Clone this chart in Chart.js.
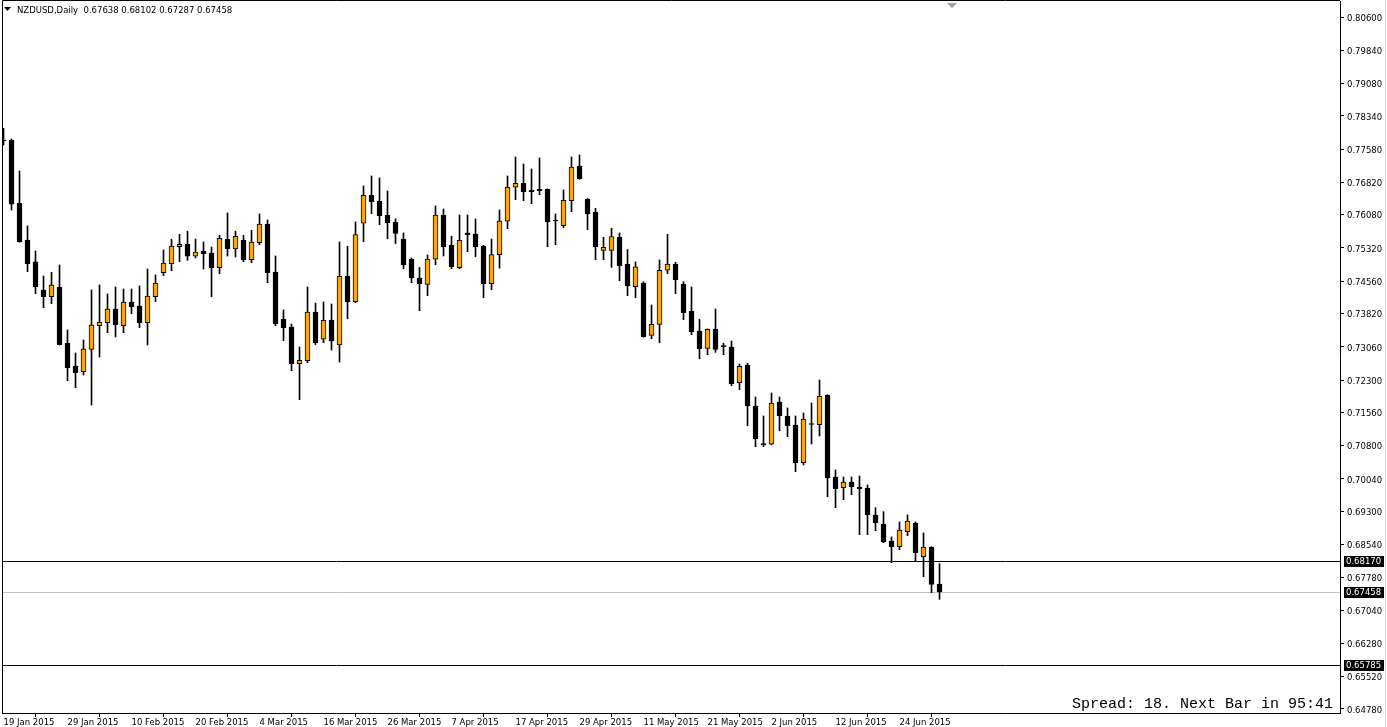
<!DOCTYPE html>
<html>
<head>
    <title>NZDUSD, Daily</title>
    <script src="https://cdn.jsdelivr.net/npm/chart.js"></script>
    <style>
        html, body {
            margin: 0;
            padding: 0;
            background: #fff;
        }
        #chart-container {
            position: relative;
            width: 1387px;
            height: 727px;
        }
    </style>
</head>
<body>
    <div id="chart-container">
        <canvas id="myChart"></canvas>
    </div>

    <script>
        // Datos del gráfico (barras diarias NZDUSD, 19 Jan 2015 - 1 Jul 2015)
        const symbol = 'NZDUSD';
        const period = 'Daily';

        const open = [
            0.77788, 0.77788, 0.76342, 0.75502, 0.75000, 0.74359, 0.74207, 0.74428, 0.73147, 0.72621,
            0.72491, 0.73003, 0.73542, 0.73611, 0.73924, 0.73542, 0.74084, 0.73993, 0.73611, 0.74207,
            0.74755, 0.74961, 0.75349, 0.75402, 0.75135, 0.75251, 0.75205, 0.74869, 0.75519, 0.75297,
            0.75497, 0.75051, 0.75440, 0.75868, 0.74771, 0.73696, 0.73512, 0.72674, 0.72742, 0.73856,
            0.73232, 0.73673, 0.73101, 0.74679, 0.74091, 0.75885, 0.76524, 0.76387, 0.76074, 0.75914,
            0.75525, 0.75061, 0.74633, 0.74489, 0.75061, 0.76074, 0.75379, 0.74869, 0.75663, 0.75640,
            0.75365, 0.74503, 0.75167, 0.75930, 0.76707, 0.76798, 0.76638, 0.76661, 0.76661, 0.75937,
            0.75829, 0.76401, 0.77194, 0.76439, 0.76143, 0.75261, 0.75261, 0.75565, 0.74953, 0.74434,
            0.74519, 0.73322, 0.73574, 0.74810, 0.74953, 0.74496, 0.73879, 0.73422, 0.73026, 0.73468,
            0.73063, 0.73055, 0.72240, 0.72644, 0.71707, 0.70823, 0.70832, 0.71798, 0.71479, 0.71273,
            0.70411, 0.71307, 0.71280, 0.71959, 0.70084, 0.69839, 0.69970, 0.69855, 0.69832, 0.69215,
            0.69009, 0.68621, 0.68491, 0.68834, 0.69032, 0.68262, 0.68484, 0.67638
        ];
        const high = [
            0.78056, 0.77811, 0.77080, 0.75823, 0.75251, 0.74679, 0.74764, 0.74931, 0.73444, 0.72918,
            0.73215, 0.74359, 0.74474, 0.74268, 0.74428, 0.74382, 0.74382, 0.74451, 0.74839, 0.74702,
            0.75274, 0.75518, 0.75633, 0.75702, 0.75525, 0.75456, 0.75342, 0.75611, 0.76120, 0.75702,
            0.75611, 0.75725, 0.76097, 0.75960, 0.75137, 0.73901, 0.73581, 0.73055, 0.74428, 0.74061,
            0.74084, 0.74039, 0.75456, 0.75357, 0.75914, 0.76737, 0.76966, 0.76920, 0.76623, 0.75983,
            0.75663, 0.75091, 0.74875, 0.75160, 0.76280, 0.76211, 0.75588, 0.76074, 0.76074, 0.75983,
            0.75380, 0.75525, 0.76189, 0.76966, 0.77400, 0.77240, 0.77126, 0.77377, 0.76670, 0.76097,
            0.76645, 0.77400, 0.77445, 0.76450, 0.76227, 0.75565, 0.75771, 0.75663, 0.75285, 0.75000,
            0.74549, 0.74016, 0.75045, 0.75633, 0.74993, 0.74549, 0.74428, 0.73689, 0.73470, 0.73924,
            0.73141, 0.73192, 0.72667, 0.72683, 0.71913, 0.71479, 0.72004, 0.71913, 0.71662, 0.71479,
            0.71547, 0.71776, 0.72302, 0.71965, 0.70244, 0.70084, 0.70084, 0.70107, 0.69901, 0.69382,
            0.69291, 0.68713, 0.69055, 0.69215, 0.69055, 0.68804, 0.68490, 0.68102
        ];
        const low = [
            0.77674, 0.76188, 0.75450, 0.74778, 0.74275, 0.73954, 0.74045, 0.73100, 0.72285, 0.72125,
            0.72415, 0.71730, 0.72827, 0.73383, 0.73284, 0.73383, 0.73817, 0.73497, 0.73101, 0.74091,
            0.74686, 0.74801, 0.75006, 0.75037, 0.75090, 0.74839, 0.74207, 0.74732, 0.75135, 0.75113,
            0.75006, 0.74983, 0.75394, 0.74526, 0.73542, 0.73199, 0.72514, 0.71851, 0.72697, 0.73108,
            0.73153, 0.72986, 0.72713, 0.73702, 0.74068, 0.75464, 0.76103, 0.75852, 0.75531, 0.75421,
            0.74846, 0.74526, 0.73886, 0.74229, 0.74938, 0.75135, 0.74846, 0.74846, 0.75235, 0.75120,
            0.74183, 0.74366, 0.74857, 0.75761, 0.76424, 0.76401, 0.76333, 0.76538, 0.75349, 0.75394,
            0.75783, 0.76149, 0.76890, 0.75738, 0.75051, 0.75051, 0.74878, 0.74572, 0.74229, 0.74183,
            0.73280, 0.73244, 0.73153, 0.74732, 0.74275, 0.73680, 0.73337, 0.72788, 0.72880, 0.72934,
            0.72880, 0.72171, 0.72080, 0.71257, 0.70777, 0.70777, 0.70820, 0.71142, 0.71006, 0.70205,
            0.70358, 0.70839, 0.71021, 0.69634, 0.69382, 0.69565, 0.69679, 0.68766, 0.68766, 0.68857,
            0.68581, 0.68125, 0.68422, 0.68742, 0.68148, 0.67805, 0.67440, 0.67287
        ];
        const close = [
            0.77765, 0.76319, 0.75464, 0.74961, 0.74435, 0.74207, 0.74474, 0.73108, 0.72582, 0.72468,
            0.73010, 0.73558, 0.73627, 0.73924, 0.73565, 0.74084, 0.73977, 0.73611, 0.74222, 0.74519,
            0.74977, 0.75365, 0.75402, 0.75135, 0.75228, 0.75189, 0.74869, 0.75542, 0.75297, 0.75588,
            0.75051, 0.75456, 0.75868, 0.74755, 0.73588, 0.73497, 0.72674, 0.72751, 0.73856, 0.73153,
            0.73666, 0.73192, 0.74679, 0.74091, 0.75627, 0.76524, 0.76378, 0.76058, 0.75897, 0.75650,
            0.74938, 0.74640, 0.74503, 0.75068, 0.76074, 0.75349, 0.74892, 0.75497, 0.75624, 0.75349,
            0.74503, 0.75167, 0.75937, 0.76707, 0.76798, 0.76606, 0.76606, 0.76629, 0.75921, 0.75937,
            0.76410, 0.77171, 0.76904, 0.76103, 0.75349, 0.75337, 0.75581, 0.74915, 0.74457, 0.74886,
            0.73291, 0.73574, 0.74810, 0.74953, 0.74595, 0.73840, 0.73406, 0.73017, 0.73461, 0.73003,
            0.73063, 0.72217, 0.72615, 0.71714, 0.70960, 0.70823, 0.71776, 0.71485, 0.71257, 0.70411,
            0.71410, 0.71284, 0.71936, 0.70068, 0.69817, 0.69970, 0.69862, 0.69817, 0.69222, 0.69040,
            0.68604, 0.68491, 0.68872, 0.69078, 0.68354, 0.68484, 0.67630, 0.67458
        ];

        // Etiquetas de fecha: una cada 8 barras
        const dateLabels = [
            '19 Jan 2015', '29 Jan 2015', '10 Feb 2015', '20 Feb 2015', '4 Mar 2015',
            '16 Mar 2015', '26 Mar 2015', '7 Apr 2015', '17 Apr 2015', '29 Apr 2015',
            '11 May 2015', '21 May 2015', '2 Jun 2015', '12 Jun 2015', '24 Jun 2015'
        ];
        const labelStep = 8;

        const priceTicks = [
            0.80600, 0.79840, 0.79080, 0.78340, 0.77580, 0.76820, 0.76080, 0.75320, 0.74560, 0.73820,
            0.73060, 0.72300, 0.71560, 0.70800, 0.70040, 0.69300, 0.68540, 0.67780, 0.67040, 0.66280,
            0.65520, 0.64780
        ];

        // Líneas horizontales del usuario
        const hLines = [0.68170, 0.65785];
        const spreadText = 'Spread: 18. Next Bar in 95:41';

        const axisFont = { family: 'DejaVu Sans', size: 8.5 };

        // Construir datos de velas
        const wicks = high.map((h, i) => ({ x: i, y: [low[i], h] }));
        const bodies = open.map((o, i) => ({ x: i, y: [Math.min(o, close[i]), Math.max(o, close[i])] }));
        const bodyColors = open.map((o, i) => close[i] > o ? '#FFA500' : '#000000');

        // Quitar el margen extra que Chart.js reserva para las etiquetas
        function noPadding(s) {
            s.paddingTop = 0;
            s.paddingBottom = 0;
            s.paddingLeft = 0;
            s.paddingRight = 0;
        }

        // Dibujo extra estilo MetaTrader
        const mt4Look = {
            id: 'mt4Look',
            beforeDraw(chart) {
                const ctx = chart.ctx;
                ctx.save();
                ctx.fillStyle = '#fff';
                ctx.fillRect(0, 0, chart.width, chart.height);
                ctx.restore();
            },
            beforeDatasetsDraw(chart) {
                const { ctx, chartArea: a, scales: { y } } = chart;
                ctx.save();
                ctx.lineWidth = 1;
                const bidY = Math.round(y.getPixelForValue(close[close.length - 1])) + 0.5;
                ctx.strokeStyle = '#C0C0C0';
                ctx.beginPath();
                ctx.moveTo(a.left, bidY);
                ctx.lineTo(a.right, bidY);
                ctx.stroke();
                ctx.strokeStyle = '#000';
                hLines.forEach(v => {
                    const py = Math.round(y.getPixelForValue(v)) + 0.5;
                    ctx.beginPath();
                    ctx.moveTo(a.left, py);
                    ctx.lineTo(a.right, py);
                    ctx.stroke();
                });
                ctx.restore();
            },
            afterDraw(chart) {
                const { ctx, chartArea: a, scales: { y } } = chart;
                ctx.save();

                // marco
                ctx.strokeStyle = '#000';
                ctx.lineWidth = 1;
                ctx.beginPath();
                ctx.moveTo(a.left + 0.5, a.bottom);
                ctx.lineTo(a.left + 0.5, 0.5);
                ctx.lineTo(a.right, 0.5);
                ctx.stroke();

                // borde derecho de la ventana
                ctx.strokeStyle = '#D0D0D0';
                ctx.beginPath();
                ctx.moveTo(1385.5, 0);
                ctx.lineTo(1385.5, chart.height);
                ctx.stroke();

                // etiquetas de precio resaltadas
                ctx.font = '8.5px "DejaVu Sans"';
                ctx.textBaseline = 'middle';
                ctx.textAlign = 'left';
                [hLines[0], close[close.length - 1], hLines[1]].forEach(v => {
                    const py = Math.round(y.getPixelForValue(v));
                    ctx.fillStyle = '#000';
                    ctx.fillRect(a.right + 4, py - 5, 40, 11);
                    ctx.fillStyle = '#fff';
                    ctx.fillText(v.toFixed(5), a.right + 6, py + 1);
                });

                // cabecera
                const n = open.length - 1;
                ctx.fillStyle = '#000';
                ctx.beginPath();
                ctx.moveTo(4, 7);
                ctx.lineTo(11, 7);
                ctx.lineTo(7.5, 11);
                ctx.closePath();
                ctx.fill();
                ctx.fillText(symbol + ',' + period + '  ' +
                    [open[n], high[n], low[n], close[n]].map(v => v.toFixed(5)).join(' '), 17, 11);

                // marcador de desplazamiento
                ctx.fillStyle = '#A0A0A0';
                ctx.beginPath();
                ctx.moveTo(947, 3);
                ctx.lineTo(957, 3);
                ctx.lineTo(952, 8);
                ctx.closePath();
                ctx.fill();

                // texto de spread
                ctx.fillStyle = '#000';
                ctx.font = '15px "Liberation Mono"';
                ctx.textAlign = 'right';
                ctx.textBaseline = 'alphabetic';
                ctx.fillText(spreadText, 1333, 708);

                ctx.restore();
            }
        };

        const ctx = document.getElementById('myChart').getContext('2d');
        new Chart(ctx, {
            type: 'bar',
            data: {
                datasets: [
                    {
                        data: bodies,
                        backgroundColor: bodyColors,
                        borderColor: '#000',
                        borderWidth: 1,
                        borderSkipped: false,
                        barThickness: 5,
                        minBarLength: 1,
                        grouped: false
                    },
                    {
                        data: wicks,
                        backgroundColor: '#000',
                        borderWidth: 0,
                        barThickness: 1,
                        grouped: false
                    }
                ]
            },
            options: {
                responsive: true,
                maintainAspectRatio: false,
                animation: false,
                devicePixelRatio: 1,
                layout: { padding: { left: 2, top: 1, right: 0, bottom: 0 } },
                plugins: {
                    legend: { display: false },
                    tooltip: { enabled: false }
                },
                scales: {
                    x: {
                        type: 'linear',
                        offset: false,
                        min: -0.1875,
                        max: 167.0625,
                        afterBuildTicks: s => {
                            s.ticks = dateLabels.map((d, k) => ({ value: k * labelStep }));
                        },
                        afterFit: s => { s.height = 14; noPadding(s); },
                        grid: { drawOnChartArea: false, drawTicks: true, tickLength: 4, color: '#000' },
                        border: { display: true, color: '#000' },
                        ticks: {
                            align: 'start',
                            padding: 1,
                            maxRotation: 0,
                            autoSkip: false,
                            color: '#000',
                            font: axisFont,
                            callback: (v, k) => dateLabels[k]
                        }
                    },
                    y: {
                        position: 'right',
                        min: 0.64688,
                        max: 0.80966,
                        afterBuildTicks: s => {
                            s.ticks = priceTicks.map(v => ({ value: v }));
                        },
                        afterFit: s => { s.width = 47; noPadding(s); },
                        grid: { drawOnChartArea: false, drawTicks: true, tickLength: 4, color: '#000' },
                        border: { display: true, color: '#000' },
                        ticks: {
                            padding: 3,
                            labelOffset: 1.5,
                            autoSkip: false,
                            color: '#000',
                            font: axisFont,
                            callback: v => v.toFixed(5)
                        }
                    }
                }
            },
            plugins: [mt4Look]
        });
    </script>
</body>
</html>
